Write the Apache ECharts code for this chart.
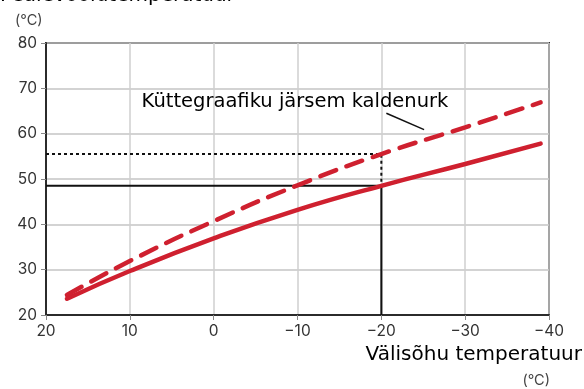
<!DOCTYPE html>
<html>
<head>
<meta charset="utf-8">
<script src="https://cdn.jsdelivr.net/npm/echarts@6/dist/echarts.min.js"></script>
<style>
html,body{margin:0;padding:0;background:#fff;}
#chart{width:584px;height:389px;}
</style>
</head>
<body>
<div id="chart"></div>
<script>
// Outdoor temperature (°C) sample points for each heating curve
const outdoorTemps = [17.5, 10, 0, -10, -20, -30, -39];
// Supply temperature along the normal heating curve (solid)
const normalCurve = [23.6, 29.7, 36.9, 43.2, 48.5, 53.3, 57.8];
// Supply temperature along the steeper heating curve (dashed)
const steepCurve = [24.4, 31.9, 40.7, 48.6, 55.5, 61.4, 66.9];

// Reading guides at the design outdoor temperature
const designOutdoor = -20;
const normalSupply = 48.5;
const steepSupply = 55.5;

// Axis ranges / ticks
const xTicks = [20, 10, 0, -10, -20, -30, -40];
const yTicks = [20, 30, 40, 50, 60, 70, 80];

// Annotation
const noteText = 'Küttegraafiku järsem kaldenurk';
const notePos = [-9.7, 67];
const notePointer = [[-20.6, 64.5], [-25.1, 60.9]];

const RED = '#cf202f';
const DARK = '#2b2b2b';
const FONT = 'Inter, "Noto Sans", sans-serif';
const TITLE_FONT = '"DejaVu Sans", sans-serif';

const pair = (xs, ys) => xs.map((x, i) => [x, ys[i]]);

const chart = echarts.init(document.getElementById('chart'), null, {renderer: 'canvas'});

const fmt = v => (v < 0 ? '\u2212' + Math.abs(v) : String(v));

chart.setOption({
  animation: false,
  backgroundColor: '#fff',
  textStyle: {fontFamily: FONT},
  grid: {left: 46, right: 35, top: 43, bottom: 74, show: true, borderColor: DARK, borderWidth: 2, backgroundColor: 'transparent'},
  xAxis: {
    type: 'value',
    inverse: true,
    min: xTicks[xTicks.length - 1],
    max: xTicks[0],
    interval: 10,
    axisLine: {show: true, onZero: false, lineStyle: {color: DARK, width: 2}},
    axisTick: {show: true, length: 5, lineStyle: {color: '#888', width: 1}},
    axisLabel: {color: '#333', fontSize: 15.5, fontFamily: FONT, margin: 8, formatter: fmt},
    splitLine: {show: true, lineStyle: {color: '#cfcfcf', width: 1.5}}
  },
  yAxis: {
    type: 'value',
    min: yTicks[0],
    max: yTicks[yTicks.length - 1],
    interval: 10,
    axisLine: {show: true, onZero: false, lineStyle: {color: DARK, width: 2}},
    axisTick: {show: true, length: 5, lineStyle: {color: '#888', width: 1}},
    axisLabel: {color: '#333', fontSize: 15.5, fontFamily: FONT, margin: 9},
    splitLine: {show: true, lineStyle: {color: '#c4c4c4', width: 1.5}}
  },
  series: [
    {
      name: 'guide-solid',
      type: 'line',
      data: [[xTicks[0], normalSupply], [designOutdoor, normalSupply], [designOutdoor, yTicks[0]]],
      symbol: 'none',
      lineStyle: {color: '#111', width: 2},
      z: 3
    },
    {
      name: 'guide-dotted',
      type: 'line',
      data: [[xTicks[0], steepSupply], [designOutdoor, steepSupply], [designOutdoor, normalSupply]],
      symbol: 'none',
      lineStyle: {color: '#111', width: 2, type: [3, 3]},
      z: 3
    },
    {
      name: 'normal',
      type: 'line',
      data: pair(outdoorTemps, normalCurve),
      smooth: 0.5,
      symbol: 'none',
      lineStyle: {color: RED, width: 4.5, cap: 'round'},
      z: 5
    },
    {
      name: 'steep',
      type: 'line',
      data: pair(outdoorTemps, steepCurve),
      smooth: 0.5,
      symbol: 'none',
      lineStyle: {color: RED, width: 4.5, type: [17, 11], cap: 'round'},
      z: 5
    },
    {
      name: 'pointer',
      type: 'line',
      data: notePointer,
      symbol: 'none',
      lineStyle: {color: '#111', width: 1.5},
      z: 4
    },
    {
      name: 'note',
      type: 'scatter',
      data: [notePos],
      symbolSize: 0,
      itemStyle: {opacity: 1},
      label: {
        show: true,
        position: 'inside',
        formatter: noteText,
        color: '#000',
        opacity: 1,
        textBorderWidth: 0,
        fontSize: 19.5,
        fontFamily: TITLE_FONT
      },
      z: 6
    }
  ],
  graphic: [
    {type: 'text', left: 0, top: -14, style: {text: 'Pealevoolutemperatuur', fontSize: 20, fontFamily: TITLE_FONT, fill: '#000'}},
    {type: 'text', left: 15, top: 13, style: {text: '(°C)', fontSize: 14.5, fontFamily: FONT, fill: '#444'}},
    {type: 'text', right: 2, top: 345, style: {text: 'Välisõhu temperatuur', fontSize: 20, fontFamily: TITLE_FONT, fill: '#000'}},
    {type: 'text', right: 34, top: 373, style: {text: '(°C)', fontSize: 14.5, fontFamily: FONT, fill: '#444'}}
  ]
});
</script>
</body>
</html>
